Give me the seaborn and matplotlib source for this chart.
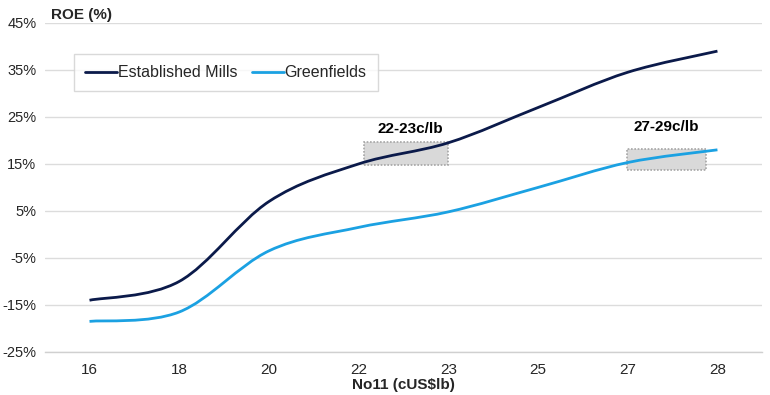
import numpy as np
import pandas as pd
import matplotlib
matplotlib.use("Agg")
import matplotlib.pyplot as plt
from matplotlib.path import Path
from matplotlib.patches import PathPatch, Rectangle
import seaborn as sns

# data
prices = ["16", "18", "20", "22", "23", "25", "27", "28"]
established = [-14, -10, 7, 15, 19.5, 27, 34.5, 39]
greenfields = [-18.5, -16.5, -3.5, 1.5, 4.8, 10, 15.3, 18]
series_names = ["Established Mills", "Greenfields"]
colors = ["#0b1a4a", "#1ba1e2"]
yticks = [-25, -15, -5, 5, 15, 25, 35, 45]

df = pd.DataFrame({
    "price": prices * 2,
    "roe": established + greenfields,
    "series": [series_names[0]] * len(prices) + [series_names[1]] * len(prices),
})
df["pos"] = list(range(len(prices))) * 2

sns.set_theme(style="white")
plt.rcParams["font.family"] = ["Liberation Sans", "DejaVu Sans"]

fig = plt.figure(figsize=(7.7, 3.95), dpi=100)
ax = fig.add_axes([0.058, 0.109, 0.932, 0.833])

sns.lineplot(data=df, x="pos", y="roe", hue="series", palette=colors,
             linewidth=2.0, ax=ax, legend=True)


def smooth_path(xs, ys):
    # Catmull-Rom style bezier through the data points (Excel "smoothed line")
    pts = np.column_stack([xs, ys])
    verts = [pts[0]]
    codes = [Path.MOVETO]
    n = len(pts)
    for i in range(n - 1):
        p0 = pts[i - 1] if i > 0 else pts[i]
        p1 = pts[i]
        p2 = pts[i + 1]
        p3 = pts[i + 2] if i + 2 < n else pts[i + 1]
        c1 = p1 + (p2 - p0) / 6.0
        c2 = p2 - (p3 - p1) / 6.0
        verts += [c1, c2, p2]
        codes += [Path.CURVE4] * 3
    return Path(verts, codes)


for line in list(ax.lines):
    xs, ys = line.get_xdata(), line.get_ydata()
    if len(xs) < 2:
        continue
    patch = PathPatch(smooth_path(np.asarray(xs, float), np.asarray(ys, float)),
                      facecolor="none", edgecolor=line.get_color(),
                      linewidth=2.0, zorder=3, capstyle="butt")
    ax.add_patch(patch)
    line.set_visible(False)

# highlighted price ranges
boxes = [(3.06, 4.0, 14.8, 19.7, "22-23c/lb", 3.58, 21.0),
         (5.99, 6.87, 13.7, 18.2, "27-29c/lb", 6.43, 21.4)]
for x0, x1, y0, y1, label, tx, ty in boxes:
    ax.add_patch(Rectangle((x0, y0), x1 - x0, y1 - y0, facecolor="#d9d9d9",
                           edgecolor="#a6a6a6", linestyle=(0, (1, 1)),
                           linewidth=1.2, zorder=2))
    ax.text(tx, ty, label, ha="center", va="bottom", fontsize=11,
            fontweight="bold", color="black", zorder=4)

ax.set_xlim(-0.5, len(prices) - 0.5)
ax.set_ylim(-25, 45)
ax.set_yticks(yticks)
ax.set_yticklabels([f"{v}%" for v in yticks], fontsize=10.5)
ax.set_xticks(range(len(prices)))
ax.set_xticklabels(prices, fontsize=11)
ax.set_xticks(np.arange(-0.5, len(prices)), minor=True)
ax.tick_params(axis="x", which="major", length=0, pad=8)
ax.tick_params(axis="x", which="minor", length=5, color="#d0d0d0", width=1, direction="out")
ax.tick_params(axis="y", length=0, pad=6)
ax.grid(axis="y", color="#dcdcdc", linewidth=1)
ax.set_axisbelow(True)
for s in ["left", "right", "top"]:
    ax.spines[s].set_visible(False)
ax.spines["bottom"].set_color("#d0d0d0")
ax.spines["bottom"].set_linewidth(1)

ax.set_xlabel("No11 (cUS$lb)", fontsize=11, fontweight="bold", labelpad=1)
ax.set_ylabel("")
fig.text(0.066, 0.962, "ROE (%)", fontsize=11, fontweight="bold", va="center")

leg = ax.legend(loc="upper left", bbox_to_anchor=(0.03, 0.93), ncol=2,
                frameon=True, fancybox=False, fontsize=11.5, handlelength=2.0,
                handletextpad=0.05, columnspacing=0.9, borderpad=0.7)
leg.get_frame().set_edgecolor("#d0d0d0")
leg.get_frame().set_linewidth(1)
for h in leg.legend_handles:
    h.set_linewidth(2.0)

fig.savefig("out.png", dpi=100)
